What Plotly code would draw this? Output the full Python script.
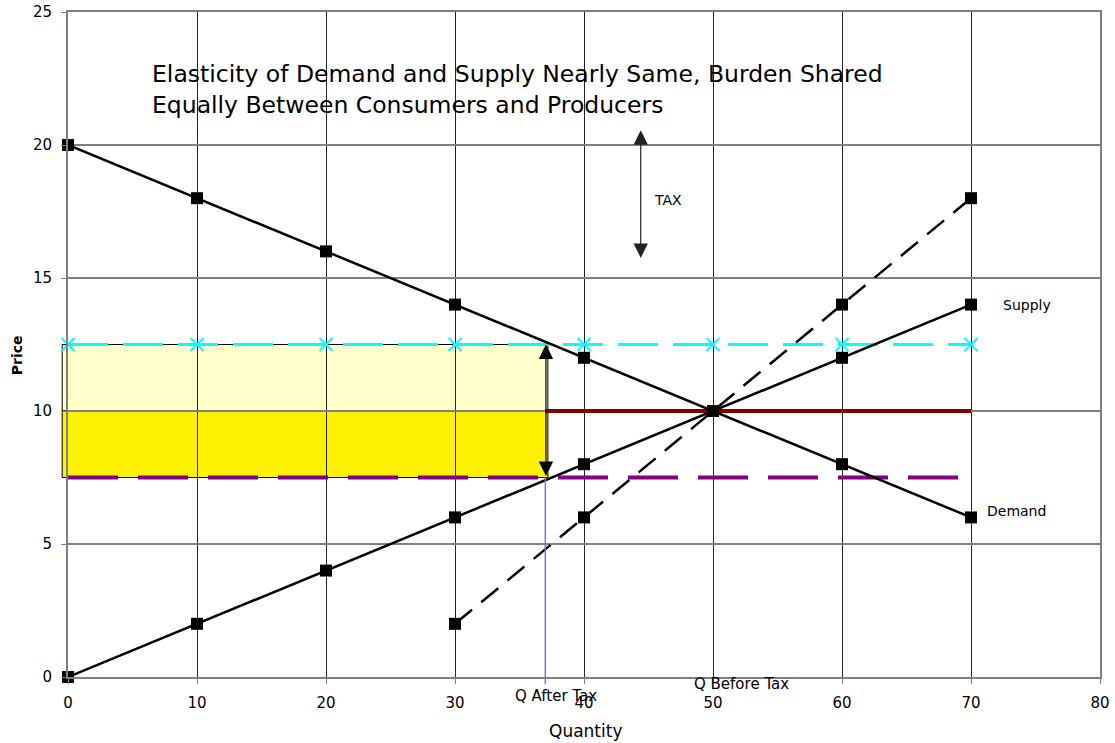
import plotly.graph_objects as go

# Market data
quantity = [0, 10, 20, 30, 40, 50, 60, 70]
demand_price = [20, 18, 16, 14, 12, 10, 8, 6]
supply_price = [0, 2, 4, 6, 8, 10, 12, 14]

taxed_quantity = [30, 40, 50, 60, 70]
taxed_supply_price = [2, 6, 10, 14, 18]

consumer_price = 12.5   # price paid by consumers after tax
producer_price = 7.5    # price received by producers after tax
pre_tax_price = 10
q_after_tax = 37
q_pre_tax_start = 37

FONT = "DejaVu Sans"

fig = go.Figure()

# Consumer price line (cyan) with x markers
fig.add_trace(go.Scatter(
    x=quantity, y=[consumer_price] * len(quantity), mode="lines+markers",
    line=dict(color="#00FFFF", width=3, dash="40px,15px"),
    marker=dict(symbol="x-thin", size=13, line=dict(color="#00FFFF", width=2)),
    cliponaxis=False, hoverinfo="skip", showlegend=False))

# Producer price line (purple dashed)
fig.add_trace(go.Scatter(
    x=[quantity[0], quantity[-1]], y=[producer_price, producer_price], mode="lines",
    line=dict(color="#800080", width=4, dash="50px,20px"),
    hoverinfo="skip", showlegend=False))

# Pre-tax equilibrium price (dark red)
fig.add_trace(go.Scatter(
    x=[q_pre_tax_start, quantity[-1]], y=[pre_tax_price, pre_tax_price], mode="lines",
    line=dict(color="#800000", width=4),
    hoverinfo="skip", showlegend=False))

# Supply shifted by tax (dashed)
fig.add_trace(go.Scatter(
    x=taxed_quantity, y=taxed_supply_price, mode="lines+markers",
    line=dict(color="black", width=2.5, dash="22px,12px"),
    marker=dict(symbol="square", size=12, color="black"),
    cliponaxis=False, hoverinfo="skip", showlegend=False))

# Demand and supply
fig.add_trace(go.Scatter(
    x=quantity, y=demand_price, mode="lines+markers", name="Demand",
    line=dict(color="black", width=2.5),
    marker=dict(symbol="square", size=12, color="black"),
    cliponaxis=False, hoverinfo="skip", showlegend=False))
fig.add_trace(go.Scatter(
    x=quantity, y=supply_price, mode="lines+markers", name="Supply",
    line=dict(color="black", width=2.5),
    marker=dict(symbol="square", size=12, color="black"),
    cliponaxis=False, hoverinfo="skip", showlegend=False))

x_max = 80
y_max = 25
rect_left = -0.45
rect_right = 37.2

# Tax revenue blocks: consumer share (light) and producer share (bright)
fig.add_shape(type="rect", xref="paper", yref="y",
              x0=rect_left / x_max, x1=rect_right / x_max,
              y0=pre_tax_price, y1=consumer_price,
              fillcolor="#FFFFCC", line=dict(color="black", width=1), layer="between")
fig.add_shape(type="rect", xref="paper", yref="y",
              x0=rect_left / x_max, x1=rect_right / x_max,
              y0=producer_price, y1=pre_tax_price,
              fillcolor="#FFF200", line=dict(color="black", width=1), layer="between")

# Quantity after tax marker line
fig.add_shape(type="line", xref="x", yref="paper",
              x0=q_after_tax, x1=q_after_tax,
              y0=producer_price / y_max, y1=-0.011,
              line=dict(color="#7777EE", width=1.5), layer="above")

annotations = []

# Double-headed arrow spanning the tax wedge
annotations.append(dict(
    x=rect_right - 0.15, y=consumer_price, ax=rect_right - 0.15, ay=producer_price,
    xref="x", yref="y", axref="x", ayref="y", text="", showarrow=True,
    arrowhead=2, startarrowhead=2, arrowside="end+start",
    arrowsize=2.4, startarrowsize=2.4, arrowwidth=1.2, arrowcolor="black"))

# TAX arrow
annotations.append(dict(
    x=44.4, y=20.55, ax=44.4, ay=15.7,
    xref="x", yref="y", axref="x", ayref="y", text="", showarrow=True,
    arrowhead=2, startarrowhead=2, arrowside="end+start",
    arrowsize=2.4, startarrowsize=2.4, arrowwidth=1.2, arrowcolor="#222222"))
annotations.append(dict(x=45.3, y=17.95, xref="x", yref="y", text="TAX",
                        showarrow=False, xanchor="left",
                        font=dict(family=FONT, size=14, color="black")))

# Title text block
annotations.append(dict(
    x=6.35, y=22.67, xref="x", yref="y", xanchor="left", yanchor="middle",
    text="Elasticity of Demand and Supply Nearly Same, Burden Shared",
    showarrow=False, font=dict(family=FONT, size=23.5, color="black")))
annotations.append(dict(
    x=6.35, y=21.5, xref="x", yref="y", xanchor="left", yanchor="middle",
    text="Equally Between Consumers and Producers",
    showarrow=False, font=dict(family=FONT, size=23.5, color="black")))

# Curve labels
annotations.append(dict(x=72.3, y=14.0, xref="x", yref="y", text="Supply",
                        showarrow=False, xanchor="left",
                        font=dict(family=FONT, size=14, color="black")))
annotations.append(dict(x=71.1, y=6.25, xref="x", yref="y", text="Demand",
                        showarrow=False, xanchor="left",
                        font=dict(family=FONT, size=14, color="black")))

# Quantity markers on the axis
annotations.append(dict(x=37.8, y=-0.0286, xref="x", yref="paper", text="Q After Tax",
                        showarrow=False, xanchor="center", yanchor="middle",
                        font=dict(family=FONT, size=15, color="black")))
annotations.append(dict(x=52.2, y=-0.0105, xref="x", yref="paper", text="Q Before Tax",
                        showarrow=False, xanchor="center", yanchor="middle",
                        font=dict(family=FONT, size=15, color="black")))

# Axis titles
annotations.append(dict(x=0.501, y=-0.081, xref="paper", yref="paper", text="Quantity",
                        showarrow=False, xanchor="center", yanchor="middle",
                        font=dict(family=FONT, size=17, color="black")))
annotations.append(dict(x=-0.0494, y=0.484, xref="paper", yref="paper", text="<b>Price</b>",
                        showarrow=False, xanchor="center", yanchor="middle", textangle=-90,
                        font=dict(family=FONT, size=14, color="black")))

fig.update_layout(
    width=1115, height=743,
    margin=dict(l=68, r=15, t=12, b=66),
    paper_bgcolor="white", plot_bgcolor="white",
    font=dict(family=FONT, size=15, color="black"),
    annotations=annotations,
    showlegend=False,
    xaxis=dict(range=[0, x_max], dtick=10, tick0=0, showgrid=True, automargin=False,
               gridcolor="#222222", gridwidth=1, zeroline=False,
               showline=True, linecolor="#808080", linewidth=2, mirror=True,
               ticks="outside", ticklen=5, tickcolor="#808080",
               ticklabelstandoff=6,
               tickfont=dict(family=FONT, size=15, color="black")),
    yaxis=dict(range=[0, y_max], dtick=5, tick0=0, showgrid=True, automargin=False,
               gridcolor="#808080", gridwidth=1.5, zeroline=False,
               showline=True, linecolor="#808080", linewidth=2, mirror=True,
               ticks="outside", ticklen=5, tickcolor="#808080",
               ticklabelstandoff=6,
               tickfont=dict(family=FONT, size=15, color="black")),
)

fig.write_html("out.html")
